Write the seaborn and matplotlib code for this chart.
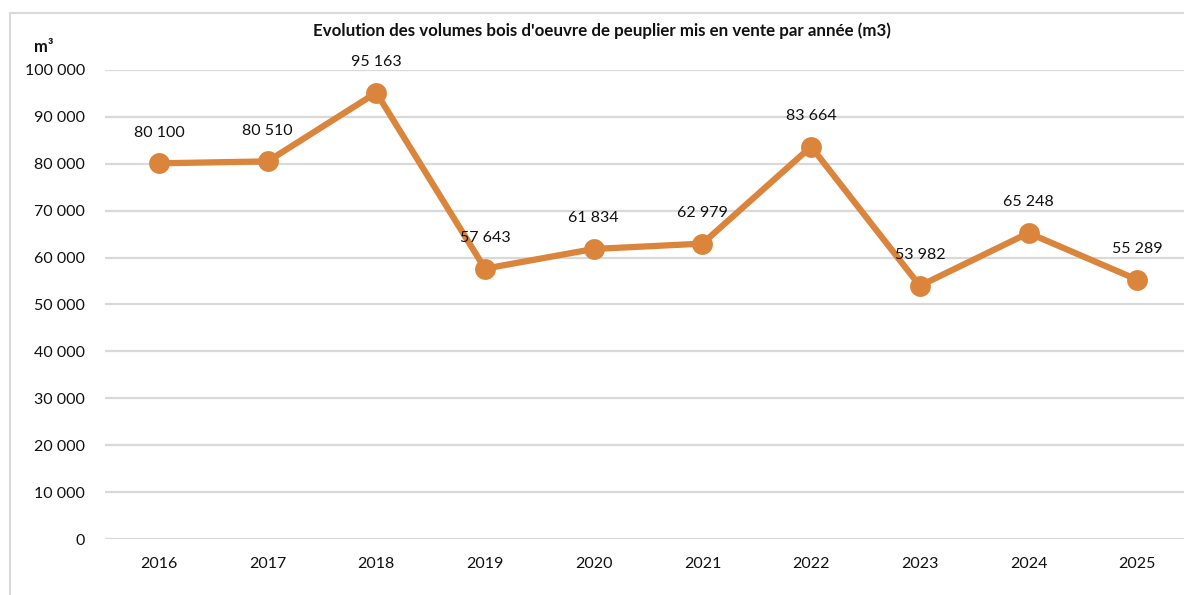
import pandas as pd
import matplotlib.pyplot as plt
import seaborn as sns
from matplotlib.patches import Rectangle
from matplotlib.ticker import FuncFormatter

years = ["2016", "2017", "2018", "2019", "2020", "2021", "2022", "2023", "2024", "2025"]
volumes = [80100, 80510, 95163, 57643, 61834, 62979, 83664, 53982, 65248, 55289]
y_ticks = [0, 10000, 20000, 30000, 40000, 50000, 60000, 70000, 80000, 90000, 100000]

df = pd.DataFrame({"annee": years, "volume": volumes})

sns.set_theme(style="white")
plt.rcParams["font.family"] = ["Lato", "DejaVu Sans"]

orange = "#DA843C"
grid_col = "#D9D9D9"


def fr_num(v):
    return f"{int(v):,}".replace(",", " ")


fig = plt.figure(figsize=(11.84, 5.95), dpi=100)
ax = fig.add_axes([0.0883, 0.0941, 0.9181, 0.7883])

for t in y_ticks:
    ax.axhline(t, color=grid_col, lw=1.6, zorder=0)

sns.lineplot(data=df, x="annee", y="volume", ax=ax, color=orange, lw=4.5,
             marker="o", markersize=15, markeredgewidth=0, sort=False, zorder=3)

# étiquettes de valeurs au-dessus des points
for i, v in enumerate(volumes):
    ax.annotate(fr_num(v), (i, v), xytext=(0, 22), textcoords="offset points",
                ha="center", va="center", fontsize=11.5, color="#111111", zorder=4)

ax.set_xlim(-0.5, len(years) - 0.5)
ax.set_ylim(0, 100000)
ax.set_yticks(y_ticks)
ax.yaxis.set_major_formatter(FuncFormatter(lambda v, p: fr_num(v)))
ax.tick_params(axis="both", length=0, labelsize=11.5, labelcolor="#111111")
ax.tick_params(axis="y", pad=14)
ax.tick_params(axis="x", pad=13)
ax.set_xlabel("")
ax.set_ylabel("")
for s in ax.spines.values():
    s.set_visible(False)

fig.text(0.5085, 0.948, "Evolution des volumes bois d'oeuvre de peuplier mis en vente par année (m3)",
         ha="center", va="center", fontsize=12.2, fontweight="bold", color="#111111")
fig.text(0.029, 0.921, "m³", ha="left", va="center", fontsize=12, fontweight="bold", color="#111111")

fig.patches.append(Rectangle((0.0084, -0.1), 1.2, 1.078, transform=fig.transFigure,
                             fill=False, edgecolor=grid_col, lw=1.5, zorder=0))

fig.savefig("out.png", dpi=100)
